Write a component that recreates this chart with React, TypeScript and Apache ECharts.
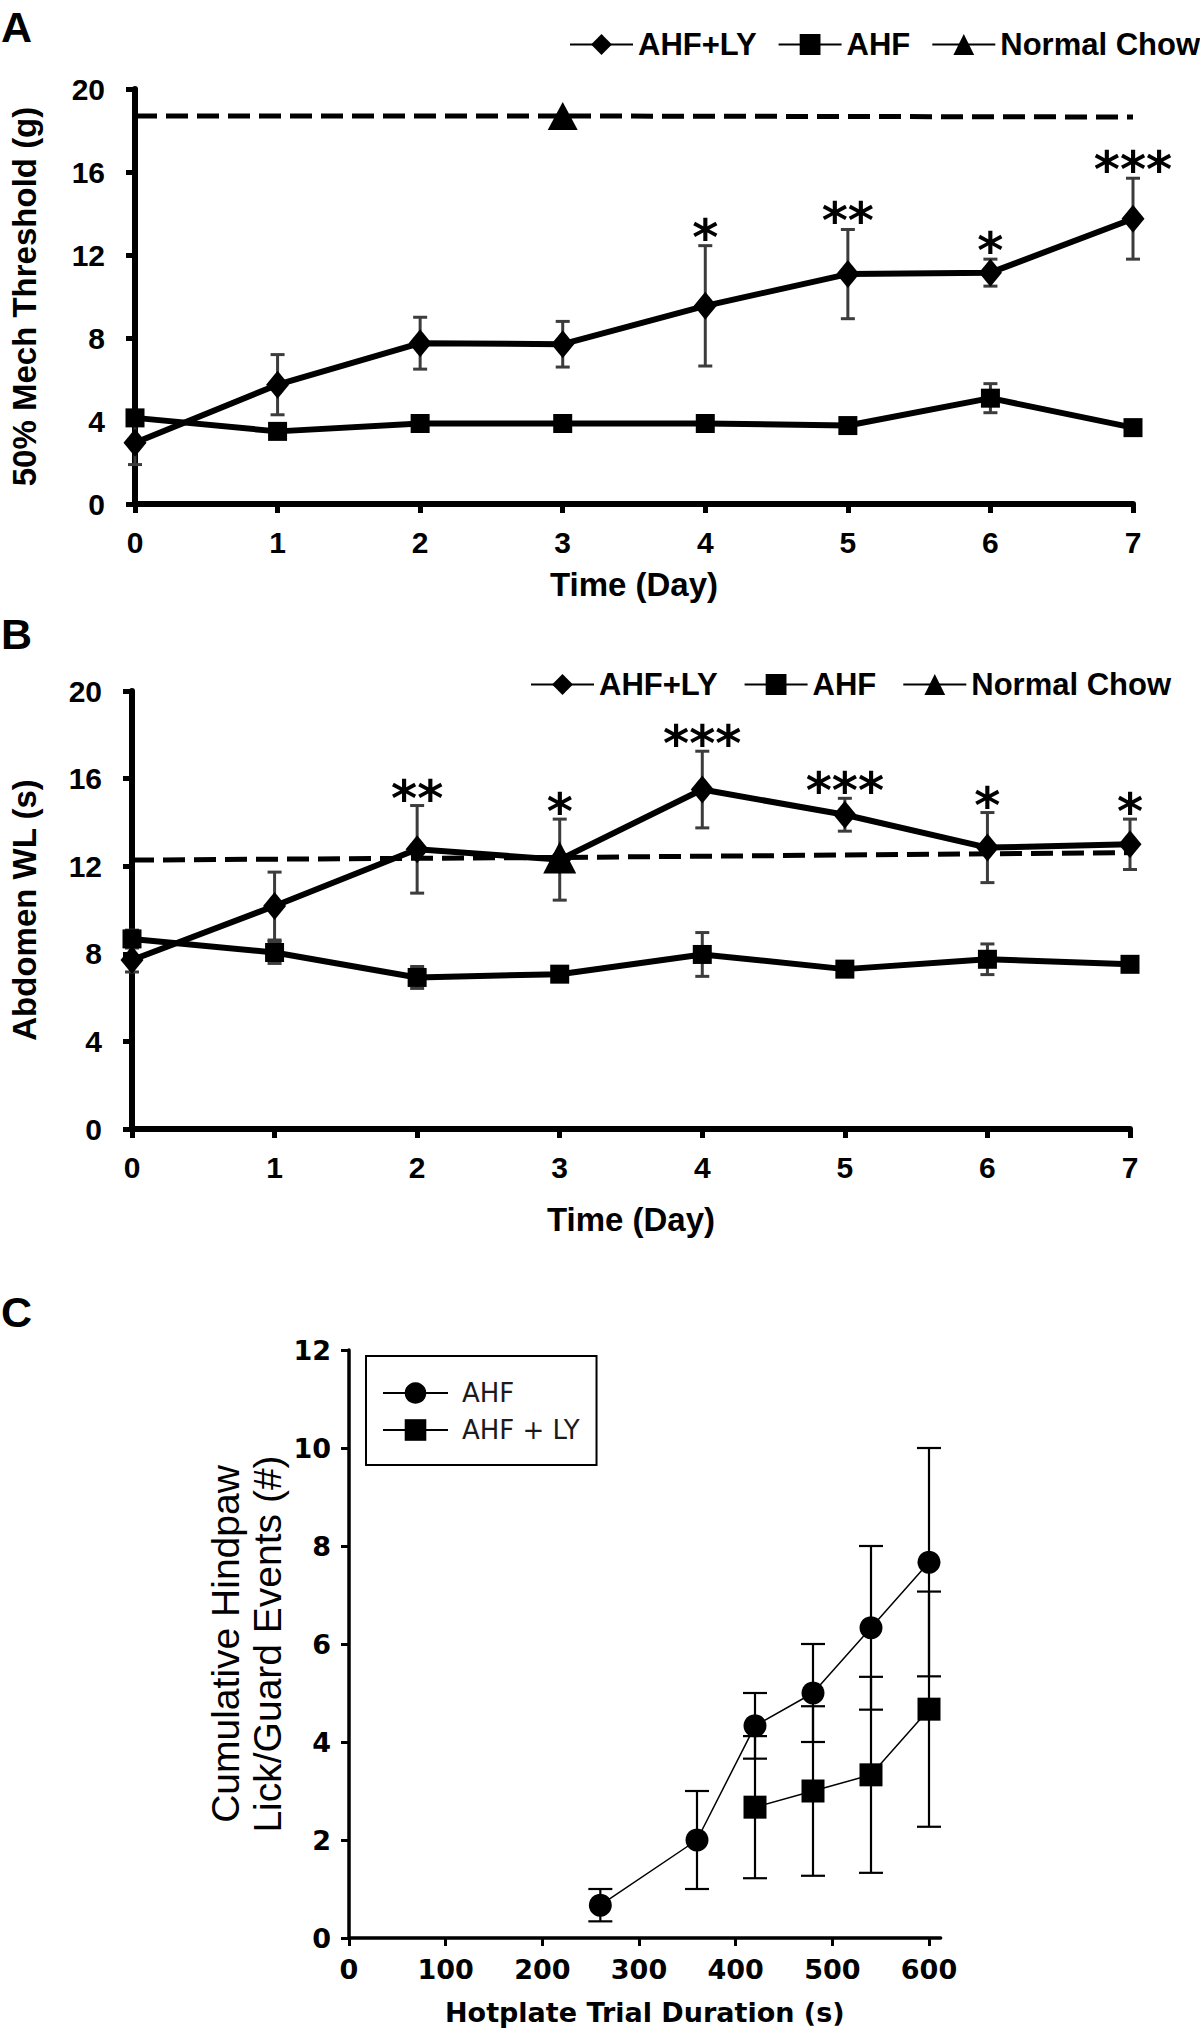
import React, { useEffect, useRef } from "react";
import * as echarts from "echarts";

// ---------- Panel A : 50% Mech Threshold (g) ----------
const days = [0, 1, 2, 3, 4, 5, 6, 7];
const aLyMean = [2.95, 5.75, 7.75, 7.7, 9.55, 11.08, 11.15, 13.75];
const aLySem = [1.05, 1.45, 1.25, 1.1, 2.9, 2.15, 0.65, 1.95];
const aAhfMean = [4.15, 3.5, 3.88, 3.88, 3.88, 3.78, 5.1, 3.68];
const aAhfSem = [0.3, 0.3, 0.3, 0.3, 0.3, 0.3, 0.7, 0.3];
const aNormalX = [0, 3, 7];
const aNormalY = [18.7, 18.7, 18.65];
const aStars = ["", "", "", "", "*", "**", "*", "***"];

// ---------- Panel B : Abdomen WL (s) ----------
const bLyMean = [7.72, 10.18, 12.77, 12.3, 15.5, 14.35, 12.85, 13.0];
const bLySem = [0.55, 1.55, 2.0, 1.85, 1.75, 0.75, 1.6, 1.15];
const bAhfMean = [8.68, 8.06, 6.92, 7.07, 7.97, 7.3, 7.75, 7.52];
const bAhfSem = [0.4, 0.5, 0.5, 0.3, 1.0, 0.3, 0.7, 0.3];
const bNormalX = [0, 3, 7.37];
const bNormalY = [12.28, 12.4, 12.64];
const bStars = ["", "", "**", "*", "***", "***", "*", "*"];

// ---------- Panel C : Cumulative lick/guard events ----------
const cAhfX = [260, 360, 420, 480, 540, 600];
const cAhfMean = [0.67, 2.0, 4.33, 5.0, 6.33, 7.67];
const cAhfSem = [0.33, 1.0, 0.67, 1.0, 1.67, 2.33];
const cLyX = [420, 480, 540, 600];
const cLyMean = [2.67, 3.0, 3.33, 4.67];
const cLySem = [1.45, 1.73, 2.0, 2.4];
const cTicks = [0, 100, 200, 300, 400, 500, 600];

const FONT = "'Liberation Sans', Arial, Helvetica, sans-serif";
const CFONT = "'DejaVu Sans', Verdana, sans-serif";

const pairs = (xs: number[], ys: number[]) => xs.map((x, i) => [x, ys[i]]);
const errs = (xs: number[], m: number[], s: number[]) =>
  xs.map((x, i) => [x, m[i] - s[i], m[i] + s[i]]);

function errorBarRender(capW: number, color: string, width: number) {
  return (params: any, api: any) => {
    const x = api.value(0);
    const p1 = api.coord([x, api.value(2)]);
    const p2 = api.coord([x, api.value(1)]);
    const h = capW / 2;
    const style = { stroke: color, lineWidth: width };
    return {
      type: "group",
      children: [
        { type: "line", shape: { x1: p1[0], y1: p1[1], x2: p2[0], y2: p2[1] }, style },
        { type: "line", shape: { x1: p1[0] - h, y1: p1[1], x2: p1[0] + h, y2: p1[1] }, style },
        { type: "line", shape: { x1: p2[0] - h, y1: p2[1], x2: p2[0] + h, y2: p2[1] }, style },
      ],
    };
  };
}

function starRender(labels: string[], lift: number) {
  return (params: any, api: any) => {
    const t = labels[params.dataIndex];
    if (!t) return null;
    const p = api.coord([api.value(0), api.value(2)]);
    return {
      type: "text",
      x: p[0],
      y: p[1] - lift,
      style: {
        text: t,
        font: `bold 50px ${CFONT}`,
        fill: "#000",
        align: "center",
        verticalAlign: "middle",
      },
    };
  };
}

const boldText = (size: number) => ({
  fontSize: size,
  fontWeight: "bold" as const,
  fontFamily: FONT,
  color: "#000",
});

function abX(grid: number, nameGap: number) {
  return {
    gridIndex: grid,
    type: "value",
    min: 0,
    max: 7,
    interval: 1,
    axisLine: { show: true, onZero: false, lineStyle: { color: "#000", width: 6 } },
    axisTick: { show: true, length: 9, lineStyle: { color: "#000", width: 5 } },
    axisLabel: { margin: 23, ...boldText(30) },
    splitLine: { show: false },
    name: "Time (Day)",
    nameLocation: "middle",
    nameGap,
    nameTextStyle: boldText(33),
  };
}

function abY(grid: number, name: string, nameGap: number) {
  return {
    gridIndex: grid,
    type: "value",
    min: 0,
    max: 20,
    interval: 4,
    axisLine: { show: true, onZero: false, lineStyle: { color: "#000", width: 6 } },
    axisTick: { show: true, length: 9, lineStyle: { color: "#000", width: 5 } },
    axisLabel: { margin: 30, ...boldText(30) },
    splitLine: { show: false },
    name,
    nameLocation: "middle",
    nameGap,
    nameTextStyle: boldText(33),
  };
}

function abSeries(
  gi: number,
  ly: number[],
  lySem: number[],
  ahf: number[],
  ahfSem: number[],
  nx: number[],
  ny: number[],
  triSize: number[],
  stars: string[],
  starLift: number
) {
  const common = {
    type: "line",
    xAxisIndex: gi,
    yAxisIndex: gi,
    clip: false,
    silent: true,
    emphasis: { disabled: true },
  };
  return [
    {
      type: "custom",
      xAxisIndex: gi,
      yAxisIndex: gi,
      silent: true,
      clip: false,
      z: 1,
      renderItem: errorBarRender(14, "#3c3c3c", 3),
      data: errs(days, ly, lySem),
    },
    {
      type: "custom",
      xAxisIndex: gi,
      yAxisIndex: gi,
      silent: true,
      clip: false,
      z: 1,
      renderItem: errorBarRender(14, "#3c3c3c", 3),
      data: errs(days, ahf, ahfSem),
    },
    {
      ...common,
      name: "Normal Chow",
      z: 2,
      symbol: "triangle",
      symbolSize: triSize,
      lineStyle: { color: "#000", width: 5, type: [22, 9] },
      itemStyle: { color: "#000" },
      data: nx.map((x, i) => ({
        value: [x, ny[i]],
        symbol: x === 3 ? "triangle" : "none",
      })),
    },
    {
      ...common,
      name: "AHF",
      z: 3,
      symbol: "rect",
      symbolSize: 19,
      lineStyle: { color: "#000", width: 6 },
      itemStyle: { color: "#000" },
      data: pairs(days, ahf),
    },
    {
      ...common,
      name: "AHF+LY",
      z: 4,
      symbol: "diamond",
      symbolSize: [23, 28],
      lineStyle: { color: "#000", width: 6 },
      itemStyle: { color: "#000" },
      data: pairs(days, ly),
    },
    {
      type: "custom",
      xAxisIndex: gi,
      yAxisIndex: gi,
      silent: true,
      clip: false,
      z: 5,
      renderItem: starRender(stars, starLift),
      data: errs(days, ly, lySem),
    },
  ];
}

export default function App() {
  const ref = useRef<HTMLDivElement>(null);

  useEffect(() => {
    if (!ref.current) return;
    const chart = echarts.init(ref.current, undefined, { renderer: "svg" });

    const abLegend = (left: number, top: number, gap: number) => ({
      data: ["AHF+LY", "AHF", "Normal Chow"],
      left,
      top,
      width: 720,
      padding: 0,
      itemWidth: 63,
      itemHeight: 26,
      itemGap: gap,
      selectedMode: false,
      textStyle: boldText(31),
      lineStyle: { type: "solid" },
    });

    const letter = (t: string, top: number) => ({
      type: "text",
      left: 1,
      top,
      style: { text: t, font: `bold 43px ${FONT}`, fill: "#000" },
    });

    const option: any = {
      animation: false,
      backgroundColor: "#fff",
      graphic: [letter("A", 5), letter("B", 612), letter("C", 1290)],
      legend: [
        abLegend(569, 29, 21),
        abLegend(530, 669, 26),
        {
          data: ["AHF ", "AHF + LY"],
          formatter: (n: string) => n.trim(),
          orient: "vertical",
          left: 366,
          top: 1356,
          padding: [24, 17, 22, 16],
          borderColor: "#000",
          borderWidth: 2,
          backgroundColor: "#fff",
          itemWidth: 65,
          itemHeight: 27,
          itemGap: 11,
          selectedMode: false,
          textStyle: {
            fontSize: 26,
            fontFamily: CFONT,
            color: "#1a1a1a",
            padding: [0, 0, 0, 9],
          },
        },
      ],
      grid: [
        { left: 134, top: 89, width: 999, height: 415 },
        { left: 131, top: 691, width: 999, height: 438 },
        { left: 349, top: 1350, width: 591.6, height: 588 },
      ],
      xAxis: [
        abX(0, 64),
        abX(1, 74),
        {
          gridIndex: 2,
          type: "value",
          min: 0,
          max: 612,
          axisLine: { show: true, onZero: false, lineStyle: { color: "#000", width: 3.5 } },
          axisTick: { show: true, length: 8, customValues: cTicks, lineStyle: { color: "#000", width: 3 } },
          axisLabel: {
            customValues: cTicks,
            margin: 18,
            fontSize: 27,
            fontWeight: "bold",
            fontFamily: CFONT,
            color: "#000",
          },
          splitLine: { show: false },
          name: "Hotplate Trial Duration (s)",
          nameLocation: "middle",
          nameGap: 61,
          nameTextStyle: { fontSize: 27, fontWeight: "bold", fontFamily: CFONT, color: "#000" },
        },
      ],
      yAxis: [
        abY(0, "50% Mech Threshold (g)", 94),
        abY(1, "Abdomen WL (s)", 91),
        {
          gridIndex: 2,
          type: "value",
          min: 0,
          max: 12,
          interval: 2,
          axisLine: { show: true, onZero: false, lineStyle: { color: "#000", width: 3.5 } },
          axisTick: { show: true, length: 8, lineStyle: { color: "#000", width: 3 } },
          axisLabel: { margin: 18, fontSize: 27, fontWeight: "bold", fontFamily: CFONT, color: "#000" },
          splitLine: { show: false },
          name: "Cumulative Hindpaw\nLick/Guard Events (#)",
          nameLocation: "middle",
          nameGap: 61,
          nameTextStyle: { fontSize: 39, lineHeight: 42, fontFamily: FONT, color: "#000" },
        },
      ],
      series: [
        ...abSeries(0, aLyMean, aLySem, aAhfMean, aAhfSem, aNormalX, aNormalY, [30, 28], aStars, 8),
        ...abSeries(1, bLyMean, bLySem, bAhfMean, bAhfSem, bNormalX, bNormalY, [33, 32], bStars, 7),
        {
          type: "custom",
          xAxisIndex: 2,
          yAxisIndex: 2,
          silent: true,
          clip: false,
          z: 1,
          renderItem: errorBarRender(24, "#000", 2.2),
          data: errs(cAhfX, cAhfMean, cAhfSem),
        },
        {
          type: "custom",
          xAxisIndex: 2,
          yAxisIndex: 2,
          silent: true,
          clip: false,
          z: 1,
          renderItem: errorBarRender(24, "#000", 2.2),
          data: errs(cLyX, cLyMean, cLySem),
        },
        {
          type: "line",
          name: "AHF ",
          xAxisIndex: 2,
          yAxisIndex: 2,
          clip: false,
          silent: true,
          z: 3,
          symbol: "circle",
          symbolSize: 23,
          lineStyle: { color: "#000", width: 1.5 },
          itemStyle: { color: "#000" },
          data: pairs(cAhfX, cAhfMean),
        },
        {
          type: "line",
          name: "AHF + LY",
          xAxisIndex: 2,
          yAxisIndex: 2,
          clip: false,
          silent: true,
          z: 3,
          symbol: "rect",
          symbolSize: 23,
          lineStyle: { color: "#000", width: 1.5 },
          itemStyle: { color: "#000" },
          data: pairs(cLyX, cLyMean),
        },
      ],
    };

    chart.setOption(option);
    return () => chart.dispose();
  }, []);

  return (
    <div
      ref={ref}
      style={{ position: "absolute", left: 0, top: 0, width: 1200, height: 2032, background: "#fff" }}
    />
  );
}
